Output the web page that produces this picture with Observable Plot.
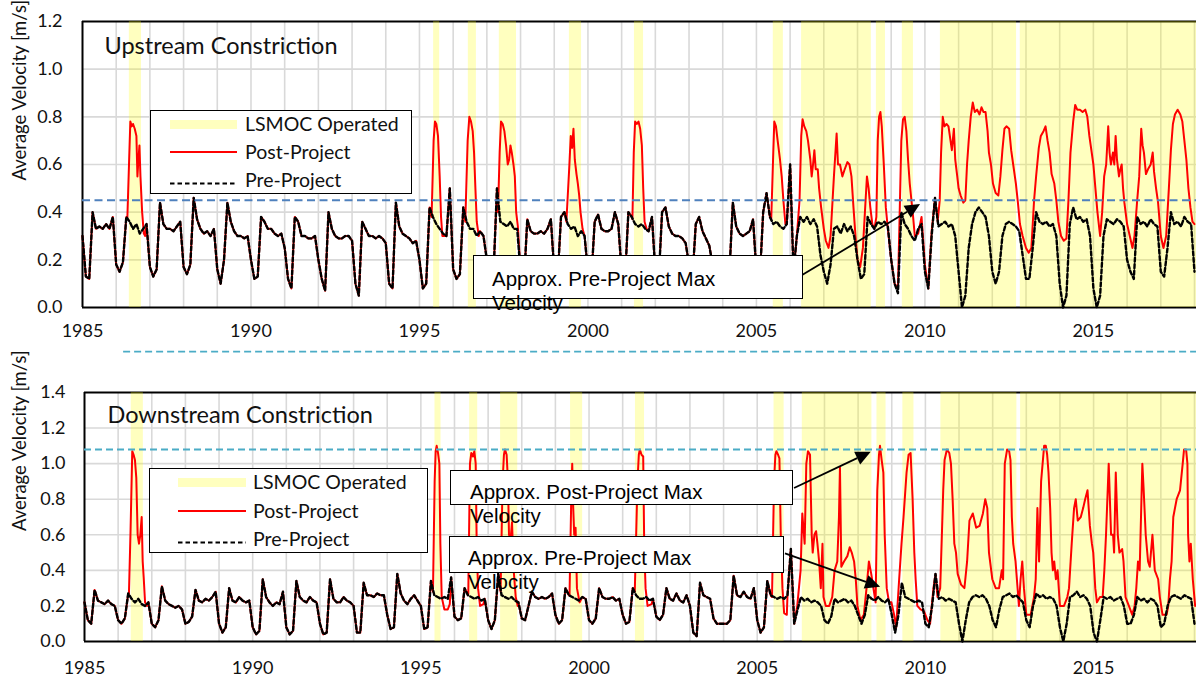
<!DOCTYPE html>
<html><head><meta charset="utf-8">
<script src="https://cdn.jsdelivr.net/npm/d3@7"></script>
<script src="https://cdn.jsdelivr.net/npm/@observablehq/plot@0.6"></script>
<style>
body{margin:0;background:#fff;}
#wrap{position:relative;width:1196px;height:677px;overflow:hidden;font-family:Lato,sans-serif;background:#fff;}
#up{position:absolute;left:0;top:0;}
#down{position:absolute;left:0;top:360px;}
.leg{position:absolute;background:#fff;border:1.5px solid #000;box-sizing:border-box;}
.leg .txt{position:absolute;font-size:19.5px;line-height:24px;color:#111;white-space:nowrap;}
.leg .sw{position:absolute;}
.ann{position:absolute;background:#fff;border:1.3px solid #000;box-sizing:border-box;font-family:"Liberation Sans",Arial,sans-serif;font-size:20.5px;line-height:24px;color:#000;white-space:nowrap;}
</style></head><body><div id="wrap"><div id="up"></div><div id="down"></div></div>
<script>
// ---------- data ----------
const START = 1985, STEP = 0.1;       // sampling of the pre-project series (10 per year)
const X_END = 2018.06;
const xTickLabels = [1985, 1990, 1995, 2000, 2005, 2010, 2015];
const gridYears = [1986,1987,1988,1989,1990,1991,1992,1993,1994,1995,1996,1997,1998,1999,2000,2001,2002,2003,2004,2005,2006,2007,2008,2009,2010,2011,2012,2013,2014,2015,2016,2017,2018];
const yTicksUp = [0, 0.2, 0.4, 0.6, 0.8, 1.0, 1.2];
const yTicksDown = [0, 0.2, 0.4, 0.6, 0.8, 1.0, 1.2, 1.4];
const maxPreUp = 0.45;     // approx. pre-project max velocity, upstream
const maxPostDown = 1.08;  // approx. post-project max velocity, downstream

// LSMOC operated periods
const lsmocBands = [[1986.39,1986.75],[1995.42,1995.60],[1996.45,1996.69],[1997.37,1997.88],[1999.45,1999.81],[2001.38,2001.65],[2005.50,2005.80],[2006.34,2008.41],[2008.56,2008.83],[2009.33,2009.66],[2010.46,2012.72],[2012.83,2018.06]];

// Upstream, pre-project (every 0.1 yr from 1985.0)
const preUp = [
0.30,0.13,0.12,0.40,0.33,0.34,0.33,0.35,0.33,0.38, // 1985
0.18,0.15,0.19,0.38,0.36,0.33,0.35,0.31,0.33,0.35, // 1986
0.17,0.13,0.16,0.44,0.35,0.33,0.33,0.32,0.34,0.36, // 1987
0.17,0.14,0.18,0.46,0.37,0.33,0.31,0.32,0.30,0.33, // 1988
0.16,0.10,0.20,0.44,0.36,0.32,0.30,0.30,0.29,0.30, // 1989
0.20,0.12,0.13,0.38,0.36,0.33,0.33,0.31,0.30,0.31, // 1990
0.25,0.12,0.08,0.38,0.36,0.30,0.30,0.29,0.29,0.30, // 1991
0.20,0.12,0.07,0.40,0.33,0.30,0.29,0.29,0.30,0.30, // 1992
0.28,0.10,0.05,0.36,0.33,0.30,0.30,0.29,0.30,0.29, // 1993
0.27,0.10,0.08,0.44,0.34,0.31,0.30,0.29,0.27,0.28, // 1994
0.20,0.08,0.10,0.42,0.38,0.35,0.33,0.31,0.30,0.50, // 1995
0.16,0.12,0.14,0.42,0.36,0.33,0.33,0.30,0.32,0.30, // 1996
0.20,0.12,0.15,0.50,0.36,0.35,0.34,0.36,0.33,0.33, // 1997
0.15,0.10,0.37,0.32,0.31,0.31,0.32,0.31,0.33,0.37, // 1998
0.15,0.12,0.38,0.40,0.35,0.33,0.34,0.30,0.32,0.30, // 1999
0.15,0.12,0.36,0.39,0.33,0.32,0.32,0.33,0.40,0.35, // 2000
0.15,0.12,0.40,0.38,0.35,0.34,0.35,0.33,0.32,0.38, // 2001
0.15,0.12,0.40,0.42,0.34,0.31,0.30,0.30,0.29,0.27, // 2002
0.18,0.12,0.35,0.38,0.32,0.29,0.26,0.18,0.12,0.10, // 2003
0.10,0.10,0.15,0.44,0.34,0.31,0.30,0.31,0.32,0.37, // 2004
0.15,0.12,0.40,0.48,0.38,0.35,0.36,0.34,0.33,0.35, // 2005
0.60,0.15,0.30,0.38,0.36,0.38,0.35,0.37,0.34,0.22, // 2006
0.15,0.10,0.18,0.33,0.34,0.31,0.35,0.32,0.34,0.30, // 2007
0.20,0.12,0.14,0.38,0.35,0.33,0.36,0.35,0.36,0.34, // 2008
0.20,0.10,0.06,0.40,0.35,0.33,0.30,0.28,0.33,0.35, // 2009
0.15,0.08,0.30,0.46,0.34,0.35,0.36,0.34,0.35,0.30, // 2010
0.15,0.00,0.05,0.25,0.35,0.40,0.42,0.40,0.38,0.30, // 2011
0.15,0.10,0.15,0.30,0.35,0.36,0.35,0.34,0.32,0.22, // 2012
0.12,0.12,0.25,0.40,0.36,0.35,0.36,0.34,0.35,0.30, // 2013
0.10,0.00,0.05,0.35,0.42,0.37,0.38,0.36,0.37,0.30, // 2014
0.08,0.00,0.05,0.30,0.37,0.36,0.35,0.37,0.36,0.34, // 2015
0.20,0.15,0.12,0.38,0.35,0.36,0.34,0.37,0.35,0.34, // 2016
0.15,0.13,0.25,0.40,0.35,0.36,0.34,0.38,0.36,0.35, // 2017
0.15
];

// Upstream, post-project: periods where it departs from pre-project [year, m/s]
const postUpEvents = [
 [[1986.33,0.37],[1986.38,0.60],[1986.42,0.78],[1986.46,0.76],[1986.50,0.77],[1986.55,0.75],[1986.60,0.72],[1986.63,0.55],[1986.66,0.62],[1986.69,0.68],[1986.72,0.55],[1986.77,0.40],[1986.82,0.31],[1986.86,0.30]],
 [[1995.36,0.38],[1995.42,0.70],[1995.46,0.78],[1995.50,0.77],[1995.55,0.72],[1995.60,0.55],[1995.64,0.38],[1995.68,0.30],[1995.76,0.30]],
 [[1996.36,0.36],[1996.43,0.70],[1996.48,0.80],[1996.53,0.78],[1996.58,0.74],[1996.62,0.65],[1996.66,0.50],[1996.70,0.36],[1996.76,0.30]],
 [[1997.33,0.40],[1997.38,0.65],[1997.42,0.78],[1997.47,0.77],[1997.52,0.74],[1997.57,0.68],[1997.62,0.60],[1997.66,0.62],[1997.70,0.68],[1997.74,0.65],[1997.79,0.60],[1997.83,0.55],[1997.87,0.40],[1997.92,0.34]],
 [[1999.36,0.36],[1999.45,0.60],[1999.49,0.72],[1999.53,0.67],[1999.57,0.75],[1999.61,0.62],[1999.66,0.56],[1999.70,0.52],[1999.74,0.47],[1999.78,0.40],[1999.84,0.33]],
 [[2001.32,0.37],[2001.36,0.65],[2001.40,0.78],[2001.45,0.77],[2001.50,0.78],[2001.55,0.75],[2001.60,0.68],[2001.64,0.50],[2001.68,0.36],[2001.74,0.33]],
 [[2005.44,0.37],[2005.50,0.65],[2005.53,0.78],[2005.58,0.76],[2005.63,0.70],[2005.70,0.62],[2005.75,0.55],[2005.80,0.45],[2005.86,0.35]],
 [[2006.20,0.30],[2006.28,0.45],[2006.33,0.72],[2006.37,0.79],[2006.42,0.76],[2006.48,0.74],[2006.53,0.70],[2006.60,0.62],[2006.64,0.55],[2006.68,0.60],[2006.72,0.66],[2006.76,0.58],[2006.82,0.58],[2006.86,0.50],[2006.92,0.42],
  [2007.00,0.33],[2007.06,0.28],[2007.14,0.25],[2007.20,0.30],[2007.26,0.45],[2007.30,0.55],[2007.38,0.73],[2007.42,0.60],[2007.48,0.60],[2007.55,0.55],[2007.62,0.58],[2007.70,0.61],[2007.76,0.60],[2007.82,0.55],[2007.88,0.42],[2007.94,0.30],
  [2008.00,0.20],[2008.08,0.17],[2008.16,0.25],[2008.22,0.40],[2008.28,0.55],[2008.33,0.50],[2008.38,0.42],[2008.44,0.35],[2008.50,0.33],[2008.56,0.38],[2008.60,0.70],[2008.64,0.80],[2008.68,0.82],[2008.72,0.76],[2008.78,0.60],[2008.84,0.42],[2008.90,0.33],
  [2009.00,0.20],[2009.10,0.10],[2009.20,0.08],[2009.26,0.45],[2009.30,0.70],[2009.35,0.79],[2009.40,0.80],[2009.45,0.74],[2009.50,0.62],[2009.55,0.52],[2009.60,0.45],[2009.65,0.38],[2009.70,0.30],[2009.80,0.31],[2009.90,0.38],
  [2010.00,0.18],[2010.10,0.08],[2010.20,0.32],[2010.30,0.46],[2010.38,0.36],[2010.44,0.45],[2010.48,0.65],[2010.53,0.80],[2010.58,0.76],[2010.64,0.77],[2010.70,0.76],[2010.76,0.70],[2010.80,0.66],[2010.86,0.75],[2010.90,0.62],[2010.96,0.55],
  [2011.00,0.50],[2011.06,0.47],[2011.14,0.44],[2011.20,0.45],[2011.25,0.60],[2011.30,0.70],[2011.36,0.80],[2011.42,0.86],[2011.48,0.82],[2011.55,0.83],[2011.62,0.81],[2011.68,0.84],[2011.74,0.82],[2011.80,0.82],[2011.86,0.74],[2011.90,0.65],[2011.96,0.60],
  [2012.02,0.52],[2012.10,0.48],[2012.18,0.47],[2012.24,0.55],[2012.30,0.66],[2012.36,0.75],[2012.42,0.76],[2012.50,0.75],[2012.56,0.66],[2012.62,0.60],[2012.70,0.52],[2012.76,0.44],[2012.82,0.35],[2012.90,0.30],
  [2013.00,0.25],[2013.08,0.23],[2013.16,0.25],[2013.24,0.45],[2013.30,0.55],[2013.38,0.67],[2013.44,0.72],[2013.52,0.74],[2013.58,0.76],[2013.64,0.70],[2013.70,0.65],[2013.76,0.56],[2013.84,0.52],[2013.90,0.45],[2013.96,0.36],
  [2014.04,0.30],[2014.12,0.28],[2014.20,0.29],[2014.26,0.45],[2014.32,0.65],[2014.40,0.78],[2014.46,0.85],[2014.52,0.83],[2014.60,0.83],[2014.68,0.82],[2014.76,0.83],[2014.82,0.80],[2014.88,0.72],[2014.94,0.66],
  [2015.00,0.60],[2015.06,0.50],[2015.12,0.40],[2015.20,0.30],[2015.26,0.40],[2015.32,0.55],[2015.38,0.60],[2015.44,0.76],[2015.48,0.65],[2015.52,0.60],[2015.58,0.65],[2015.62,0.60],[2015.66,0.72],[2015.70,0.62],[2015.76,0.55],[2015.80,0.58],[2015.84,0.60],[2015.88,0.50],[2015.92,0.44],
  [2016.00,0.35],[2016.08,0.30],[2016.16,0.25],[2016.22,0.30],[2016.30,0.45],[2016.36,0.55],[2016.42,0.75],[2016.46,0.68],[2016.50,0.65],[2016.56,0.56],[2016.62,0.58],[2016.70,0.60],[2016.76,0.65],[2016.80,0.57],[2016.86,0.50],[2016.92,0.44],
  [2017.00,0.30],[2017.08,0.25],[2017.16,0.30],[2017.24,0.50],[2017.30,0.66],[2017.36,0.77],[2017.42,0.81],[2017.50,0.83],[2017.58,0.81],[2017.64,0.78],[2017.70,0.70],[2017.76,0.62],[2017.82,0.50],[2017.88,0.42],[2017.94,0.36],[2018.00,0.35]]
];

// Downstream, pre-project (every 0.1 yr from 1985.0)
const preDown = [
0.22,0.12,0.10,0.29,0.23,0.22,0.21,0.23,0.21,0.20, // 1985
0.12,0.10,0.13,0.27,0.24,0.22,0.24,0.21,0.20,0.22, // 1986
0.10,0.08,0.12,0.31,0.23,0.21,0.20,0.19,0.20,0.18, // 1987
0.10,0.11,0.14,0.29,0.23,0.22,0.24,0.23,0.25,0.28, // 1988
0.10,0.05,0.08,0.30,0.23,0.22,0.25,0.23,0.22,0.23, // 1989
0.08,0.04,0.06,0.35,0.25,0.22,0.20,0.22,0.21,0.28, // 1990
0.08,0.04,0.06,0.34,0.25,0.23,0.22,0.25,0.23,0.22, // 1991
0.10,0.04,0.05,0.35,0.24,0.22,0.22,0.25,0.23,0.22, // 1992
0.20,0.05,0.05,0.33,0.26,0.26,0.25,0.27,0.26,0.26, // 1993
0.15,0.07,0.08,0.38,0.27,0.23,0.21,0.24,0.26,0.23, // 1994
0.20,0.07,0.08,0.34,0.26,0.25,0.24,0.25,0.24,0.36, // 1995
0.14,0.12,0.13,0.30,0.26,0.25,0.24,0.25,0.23,0.24, // 1996
0.12,0.07,0.12,0.38,0.26,0.25,0.24,0.25,0.23,0.22, // 1997
0.13,0.12,0.20,0.28,0.25,0.24,0.25,0.24,0.25,0.27, // 1998
0.15,0.10,0.12,0.30,0.26,0.25,0.24,0.23,0.25,0.24, // 1999
0.12,0.10,0.13,0.30,0.25,0.24,0.24,0.25,0.23,0.24, // 2000
0.15,0.10,0.11,0.30,0.26,0.24,0.24,0.25,0.23,0.24, // 2001
0.14,0.12,0.15,0.30,0.24,0.23,0.27,0.23,0.22,0.26, // 2002
0.20,0.05,0.03,0.33,0.26,0.25,0.24,0.13,0.10,0.10, // 2003
0.10,0.10,0.12,0.37,0.26,0.25,0.28,0.25,0.24,0.30, // 2004
0.12,0.05,0.08,0.34,0.26,0.25,0.24,0.25,0.24,0.26, // 2005
0.52,0.10,0.18,0.25,0.23,0.24,0.22,0.23,0.22,0.20, // 2006
0.12,0.10,0.14,0.24,0.22,0.23,0.24,0.22,0.23,0.20, // 2007
0.15,0.10,0.15,0.26,0.24,0.23,0.25,0.23,0.22,0.24, // 2008
0.15,0.05,0.15,0.33,0.25,0.24,0.23,0.22,0.23,0.22, // 2009
0.10,0.08,0.20,0.38,0.24,0.25,0.23,0.24,0.23,0.22, // 2010
0.10,0.00,0.12,0.22,0.25,0.26,0.25,0.26,0.24,0.20, // 2011
0.12,0.08,0.18,0.25,0.26,0.27,0.25,0.26,0.24,0.22, // 2012
0.12,0.08,0.20,0.27,0.25,0.26,0.24,0.25,0.24,0.20, // 2013
0.08,0.00,0.10,0.25,0.26,0.28,0.25,0.26,0.24,0.20, // 2014
0.05,0.00,0.12,0.25,0.24,0.25,0.23,0.24,0.25,0.20, // 2015
0.10,0.10,0.15,0.25,0.23,0.24,0.22,0.24,0.23,0.20, // 2016
0.08,0.10,0.20,0.25,0.26,0.25,0.24,0.26,0.25,0.24, // 2017
0.10
];

// Downstream, post-project departures [year, m/s]
const postDownEvents = [
 [[1986.32,0.26],[1986.37,0.63],[1986.42,1.07],[1986.46,1.05],[1986.50,1.02],[1986.54,0.92],[1986.58,0.60],[1986.62,0.55],[1986.66,0.60],[1986.70,0.70],[1986.73,0.45],[1986.76,0.36],[1986.80,0.22],[1986.86,0.20]],
 [[1995.36,0.28],[1995.41,0.90],[1995.44,1.07],[1995.47,1.10],[1995.51,1.06],[1995.55,1.00],[1995.58,0.55],[1995.62,0.25],[1995.70,0.18],[1995.80,0.18],[1995.86,0.21]],
 [[1996.41,0.27],[1996.46,1.00],[1996.50,1.06],[1996.55,1.04],[1996.59,1.07],[1996.63,1.00],[1996.66,0.55],[1996.70,0.30],[1996.76,0.20],[1996.86,0.21]],
 [[1997.37,0.28],[1997.43,0.90],[1997.47,1.05],[1997.50,1.08],[1997.55,1.05],[1997.59,0.90],[1997.62,0.60],[1997.67,0.58],[1997.71,0.67],[1997.76,0.40],[1997.82,0.25],[1997.88,0.20]],
 [[1999.42,0.26],[1999.47,0.79],[1999.50,1.00],[1999.53,0.75],[1999.56,0.60],[1999.60,0.64],[1999.64,0.30],[1999.72,0.22]],
 [[2001.36,0.28],[2001.44,0.90],[2001.48,1.05],[2001.51,1.08],[2001.56,1.05],[2001.61,1.04],[2001.64,0.55],[2001.68,0.30],[2001.74,0.20],[2001.86,0.21]],
 [[2005.44,0.25],[2005.50,0.90],[2005.54,1.05],[2005.57,1.07],[2005.62,1.05],[2005.66,1.03],[2005.70,0.60],[2005.75,0.30],[2005.80,0.16],[2005.88,0.15]],
 [[2006.19,0.20],[2006.29,0.40],[2006.34,0.72],[2006.41,0.55],[2006.46,1.00],[2006.51,1.07],[2006.57,1.05],[2006.62,0.60],[2006.65,0.50],[2006.70,0.60],[2006.75,0.62],[2006.79,0.55],[2006.84,0.45],[2006.89,0.30],[2006.94,0.55],[2006.97,0.25],
  [2007.04,0.20],[2007.14,0.20],[2007.23,0.25],[2007.30,0.40],[2007.38,0.45],[2007.43,0.70],[2007.46,0.98],[2007.50,0.42],[2007.58,0.45],[2007.68,0.48],[2007.75,0.53],[2007.81,0.50],[2007.88,0.45],[2007.93,0.35],[2007.98,0.20],
  [2008.07,0.12],[2008.17,0.15],[2008.25,0.30],[2008.32,0.45],[2008.39,0.38],[2008.47,0.28],[2008.52,0.22],[2008.57,0.85],[2008.62,1.05],[2008.65,1.10],[2008.70,1.02],[2008.75,0.95],[2008.79,0.60],[2008.85,0.30],[2008.92,0.22],[2008.99,0.22],
  [2009.07,0.15],[2009.13,0.08],[2009.22,0.35],[2009.29,0.55],[2009.35,0.70],[2009.44,0.95],[2009.50,1.05],[2009.56,1.06],[2009.62,0.80],[2009.67,0.50],[2009.71,0.35],[2009.76,0.20],[2009.86,0.18],[2009.96,0.17],
  [2010.06,0.12],[2010.14,0.10],[2010.24,0.30],[2010.30,0.38],[2010.36,0.25],[2010.44,0.30],[2010.49,0.60],[2010.53,0.85],[2010.57,1.02],[2010.64,1.08],[2010.71,1.06],[2010.76,1.00],[2010.81,0.80],[2010.86,0.55],[2010.91,0.50],[2010.96,0.38],
  [2011.06,0.32],[2011.16,0.30],[2011.24,0.45],[2011.31,0.68],[2011.41,0.72],[2011.51,0.64],[2011.61,0.65],[2011.71,0.72],[2011.78,0.80],[2011.84,0.75],[2011.89,0.50],[2011.99,0.35],
  [2012.09,0.30],[2012.19,0.30],[2012.27,0.40],[2012.31,0.35],[2012.36,1.00],[2012.43,1.08],[2012.49,1.07],[2012.53,1.02],[2012.57,0.70],[2012.61,0.55],[2012.68,0.45],[2012.78,0.20],[2012.83,0.35],[2012.88,0.45],[2012.93,0.30],
  [2013.00,0.15],[2013.13,0.15],[2013.23,0.25],[2013.28,0.35],[2013.33,0.75],[2013.38,0.45],[2013.44,0.90],[2013.53,1.10],[2013.58,1.10],[2013.62,1.05],[2013.66,0.95],[2013.71,0.75],[2013.75,0.50],[2013.79,0.40],[2013.83,0.45],[2013.88,0.35],[2013.93,0.40],
  [2014.00,0.20],[2014.12,0.20],[2014.22,0.25],[2014.27,0.30],[2014.35,0.55],[2014.42,0.75],[2014.47,0.80],[2014.53,0.68],[2014.62,0.70],[2014.69,0.75],[2014.75,0.80],[2014.82,0.85],[2014.89,0.65],[2014.95,0.55],[2014.99,0.50],
  [2015.05,0.30],[2015.10,0.22],[2015.19,0.25],[2015.27,0.25],[2015.32,0.40],[2015.37,0.60],[2015.45,1.00],[2015.52,0.60],[2015.58,0.60],[2015.61,0.50],[2015.66,0.95],[2015.72,0.60],[2015.77,0.50],[2015.85,0.52],[2015.89,0.45],[2015.95,0.25],
  [2016.05,0.20],[2016.15,0.15],[2016.22,0.20],[2016.27,0.30],[2016.32,0.45],[2016.37,0.40],[2016.45,1.00],[2016.49,0.85],[2016.55,0.60],[2016.62,0.45],[2016.67,0.42],[2016.75,0.60],[2016.82,0.40],[2016.92,0.35],[2016.97,0.25],
  [2017.05,0.15],[2017.17,0.15],[2017.22,0.20],[2017.27,0.35],[2017.32,0.45],[2017.37,0.70],[2017.47,0.80],[2017.57,0.85],[2017.65,1.00],[2017.69,1.08],[2017.75,1.08],[2017.79,1.00],[2017.81,0.60],[2017.85,0.45],[2017.89,0.55],[2017.95,0.35],[2018.02,0.20]]
];

// annotation arrows: tail at box edge, tip near the max-velocity level [year, m/s]
const arrowsUp = [{t1: 2006.37, v1: 0.134, t2: 2009.87, v2: 0.432}];
const arrowsDown = [
  {t1: 2006.11, v1: 0.86, t2: 2008.39, v2: 1.064},
  {t1: 2005.84, v1: 0.493, t2: 2008.67, v2: 0.305}
];

// ---------- helpers ----------
function gridSeries(values) {
  return values.map((v, i) => ({t: Math.round((START + i * STEP) * 100) / 100, v}));
}
function mergeSeries(pre, events) {
  const ranges = events.map(e => [e[0][0], e[e.length - 1][0]]);
  const pts = pre.filter(p => !ranges.some(([a, b]) => p.t >= a && p.t <= b));
  for (const e of events) for (const [t, v] of e) pts.push({t, v});
  return pts.sort((a, b) => a.t - b.t);
}
function arrowsMark(list) {
  return (index, scales) => {
    const g = d3.create("svg:g");
    for (const a of list) {
      const x1 = scales.x(a.t1), y1 = scales.y(a.v1), x2 = scales.x(a.t2), y2 = scales.y(a.v2);
      const ang = Math.atan2(y2 - y1, x2 - x1);
      const L = 15, W = 7;
      const bx = x2 - L * Math.cos(ang), by = y2 - L * Math.sin(ang);
      g.append("line").attr("x1", x1).attr("y1", y1).attr("x2", bx).attr("y2", by)
        .attr("stroke", "#000").attr("stroke-width", 1.8);
      const px = -Math.sin(ang) * W, py = Math.cos(ang) * W;
      g.append("path").attr("d", `M${x2},${y2}L${bx + px},${by + py}L${bx - px},${by - py}Z`).attr("fill", "#000");
    }
    return g.node();
  };
}

function panel({pre, post, yMax, yTicks, height, marginTop, marginBottom, marginLeft, tickPadX, tickPadY,
                title, titleDx, titleDy, labelDy, maxLevel, maxColor, maxDash, arrows, extra}) {
  return Plot.plot({
    width: 1196, height, marginLeft, marginRight: 0, marginTop, marginBottom,
    style: {fontFamily: "Lato, sans-serif", fontSize: "18px", color: "#111", background: "white", overflow: "visible"},
    x: {domain: [START, X_END], ticks: xTickLabels, tickFormat: d => String(d), tickSize: 0, tickPadding: tickPadX, label: null},
    y: {domain: [0, yMax], ticks: yTicks, tickFormat: d => d.toFixed(1), tickSize: 0, tickPadding: tickPadY, label: null},
    marks: [
      Plot.ruleX(gridYears, {stroke: "#d9d9d9", strokeWidth: 1.6}),
      Plot.ruleY(yTicks.filter(d => d > 0 && d < yMax), {stroke: "#d9d9d9", strokeWidth: 1.6}),
      Plot.ruleX([START], {stroke: "#000", strokeWidth: 2}),
      Plot.ruleY([0, yMax], {stroke: "#000", strokeWidth: 2}),
      Plot.rect(lsmocBands, {x1: d => d[0], x2: d => d[1], y1: () => 0, y2: () => yMax, fill: "#ffff00", fillOpacity: 0.25}),
      Plot.line(post, {x: "t", y: "v", stroke: "#ff0000", strokeWidth: 2}),
      Plot.line(pre, {x: "t", y: "v", stroke: "#000", strokeWidth: 2.4, strokeDasharray: "4,2.5"}),
      Plot.ruleY([maxLevel], {stroke: maxColor, strokeWidth: 2, strokeDasharray: maxDash}),
      ...(extra || []),
      Plot.text([title], {text: d => d, frameAnchor: "top-left", textAnchor: "start", lineAnchor: "middle", dx: titleDx, dy: titleDy, fontSize: 23.5, fill: "#111"}),
      Plot.text(["Average Velocity [m/s]"], {text: d => d, frameAnchor: "left", rotate: -90, dx: -(marginLeft - 20), dy: labelDy, fontSize: 18.5, fill: "#111"}),
      arrowsMark(arrows)
    ]
  });
}

// ---------- build ----------
const preUpData = gridSeries(preUp);
const postUpData = mergeSeries(preUpData, postUpEvents);
const preDownData = gridSeries(preDown);
const postDownData = mergeSeries(preDownData, postDownEvents);

const separator = [{y: -0.185, x1: 1986.22, x2: X_END}];

const up = panel({
  pre: preUpData, post: postUpData, yMax: 1.2, yTicks: yTicksUp, height: 360, marginTop: 21, marginBottom: 53, marginLeft: 82,
  tickPadX: 17, tickPadY: 20, title: "Upstream Constriction", titleDx: 22, titleDy: 25, labelDy: 16,
  maxLevel: maxPreUp, maxColor: "#4f81bd", maxDash: "8,4.5", arrows: arrowsUp,
  extra: [Plot.ruleY(separator, {y: "y", x1: "x1", x2: "x2", stroke: "#4bacc6", strokeWidth: 1.6, strokeDasharray: "7,4"})]
});
const down = panel({
  pre: preDownData, post: postDownData, yMax: 1.4, yTicks: yTicksDown, height: 317, marginTop: 32, marginBottom: 36, marginLeft: 84,
  tickPadX: 20, tickPadY: 19, title: "Downstream Constriction", titleDx: 23, titleDy: 23, labelDy: 14,
  maxLevel: maxPostDown, maxColor: "#4bacc6", maxDash: "7,4", arrows: arrowsDown
});
document.getElementById("up").appendChild(up);
document.getElementById("down").appendChild(down);

// ---------- legends & annotation boxes (HTML overlay) ----------
const wrap = document.getElementById("wrap");
function legend(left, top, w, h, swLeft, swW, txtLeft, centers) {
  const box = document.createElement("div");
  box.className = "leg";
  Object.assign(box.style, {left: left + "px", top: top + "px", width: w + "px", height: h + "px"});
  const items = [
    {label: "LSMOC Operated", sw: `<div style="width:${swW}px;height:9px;background:#ffffbf"></div>`, h: 9},
    {label: "Post-Project", sw: `<div style="width:${swW}px;height:2px;background:#ff0000"></div>`, h: 2},
    {label: "Pre-Project", sw: `<svg width="${swW}" height="3"><line x1="0" y1="1.5" x2="${swW}" y2="1.5" stroke="#000" stroke-width="2" stroke-dasharray="4.5,3"/></svg>`, h: 3}
  ];
  items.forEach((it, i) => {
    const s = document.createElement("div");
    s.className = "sw"; s.innerHTML = it.sw;
    Object.assign(s.style, {left: swLeft + "px", top: (centers[i] - it.h / 2) + "px", height: it.h + "px", lineHeight: 0});
    box.appendChild(s);
    const t = document.createElement("div");
    t.className = "txt"; t.textContent = it.label;
    Object.assign(t.style, {left: txtLeft + "px", top: (centers[i] - 12) + "px"});
    box.appendChild(t);
  });
  wrap.appendChild(box);
}
legend(150, 110, 262, 84, 19, 67, 94, [13, 41, 69]);
legend(149, 468, 279, 85, 28, 68, 103, [13, 42, 70]);

function ann(left, top, w, h, padTop, padLeft, text) {
  const d = document.createElement("div");
  d.className = "ann";
  Object.assign(d.style, {left: left + "px", top: top + "px", width: w + "px", height: h + "px", paddingTop: padTop + "px", paddingLeft: padLeft + "px"});
  d.innerHTML = text;
  wrap.appendChild(d);
}
ann(473, 255, 330, 44, 10.5, 18, "Approx. Pre-Project Max<br>Velocity");
ann(450, 470, 343, 35, 8.5, 19, "Approx. Post-Project Max<br>Velocity");
ann(449, 536, 335, 37, 8.5, 18, "Approx. Pre-Project Max<br>Velocity");
</script></body></html>
